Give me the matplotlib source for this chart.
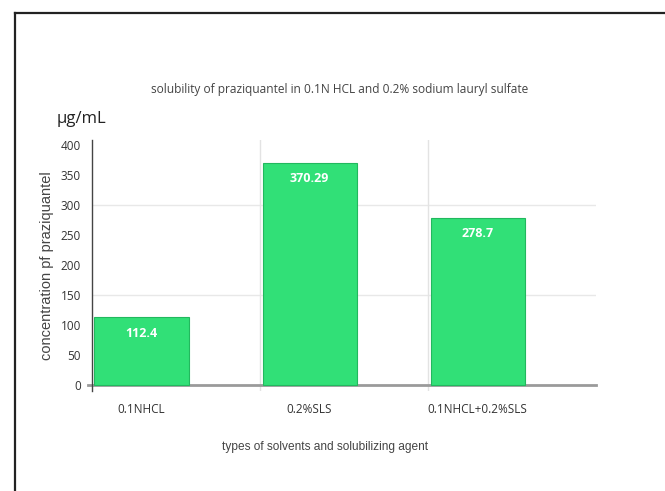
import matplotlib

matplotlib.use("Agg")
import matplotlib.pyplot as plt
from matplotlib.lines import Line2D
import numpy as np

categories = ["0.1NHCL", "0.2%SLS", "0.1NHCL+0.2%SLS"]
values = [112.4, 370.29, 278.7]
value_labels = ["112.4", "370.29", "278.7"]
y_ticks = [0, 50, 100, 150, 200, 250, 300, 350, 400]
grid_levels = [150, 300]

BAR_COLOR = "#31e077"
EDGE_COLOR = "#22b85e"
TEXT_COLOR = "#333333"

plt.rcParams["font.family"] = ["Open Sans", "DejaVu Sans"]

fig = plt.figure(figsize=(6.65, 4.91), dpi=100)
ax = fig.add_axes([0.1383, 0.2037, 0.758, 0.5112])

# each category owns a unit band; the bar sits on the left part of it
band = np.arange(len(categories))
offset, width = 0.015, 0.56
bars = ax.bar(band + offset, values, width=width, align="edge",
              color=BAR_COLOR, edgecolor=EDGE_COLOR, linewidth=0.8, zorder=3)

for rect, text in zip(bars, value_labels):
    ax.annotate(text, (rect.get_x() + rect.get_width() / 2, rect.get_height()),
                xytext=(0, -16), textcoords="offset pixels",
                ha="center", va="center", color="white", fontsize=9,
                fontweight="bold", zorder=4)

ax.set_xlim(0, 3)
ax.set_ylim(-10, 408)

# light grid
for level in grid_levels:
    ax.axhline(level, color="#e8e8e8", linewidth=1.0, zorder=1)
for edge in band[1:]:
    ax.axvline(edge, color="#e3e3e3", linewidth=1.0, zorder=1)

# baseline, reaching a little past the y axis
ax.plot([-0.025, 3], [0, 0], color="#9a9a9a", linewidth=2.0,
        clip_on=False, zorder=2)

for side in ["top", "right", "bottom"]:
    ax.spines[side].set_visible(False)
ax.spines["left"].set_color("#444444")
ax.spines["left"].set_linewidth(1.0)

ax.set_yticks(y_ticks)
ax.set_yticklabels([str(v) for v in y_ticks], fontsize=8.5, color=TEXT_COLOR)
ax.tick_params(axis="y", length=0, pad=8)

ax.set_xticks(band + offset + width / 2)
ax.set_xticklabels(categories, fontsize=8.5, color=TEXT_COLOR)
ax.tick_params(axis="x", length=0, pad=9)

ax.set_ylabel("concentration pf praziquantel", fontsize=10.5,
              family=["Liberation Sans", "DejaVu Sans"], color="#444444")
ax.yaxis.set_label_coords(-0.075, 0.5)

fig.text(325 / 665, 1 - 447 / 491, "types of solvents and solubilizing agent",
         ha="center", va="center", fontsize=8.6,
         family=["Liberation Sans", "DejaVu Sans"], color="#444444")

fig.text(340 / 665, 1 - 89 / 491,
         "solubility of praziquantel in 0.1N HCL and 0.2% sodium lauryl sulfate",
         ha="center", va="center", fontsize=8.6, color="#444444")

fig.text(57 / 665, 1 - 119 / 491, "µg/mL", ha="left", va="center",
         fontsize=12, color="#222222")

# page frame: only the top and left edges fall inside the image
fig.add_artist(Line2D([15 / 665, 15 / 665], [0, 1 - 13 / 491],
                      transform=fig.transFigure, color="#222222", linewidth=1.6))
fig.add_artist(Line2D([15 / 665, 1], [1 - 13 / 491, 1 - 13 / 491],
                      transform=fig.transFigure, color="#222222", linewidth=1.6))

fig.savefig("out.png", dpi=100)
